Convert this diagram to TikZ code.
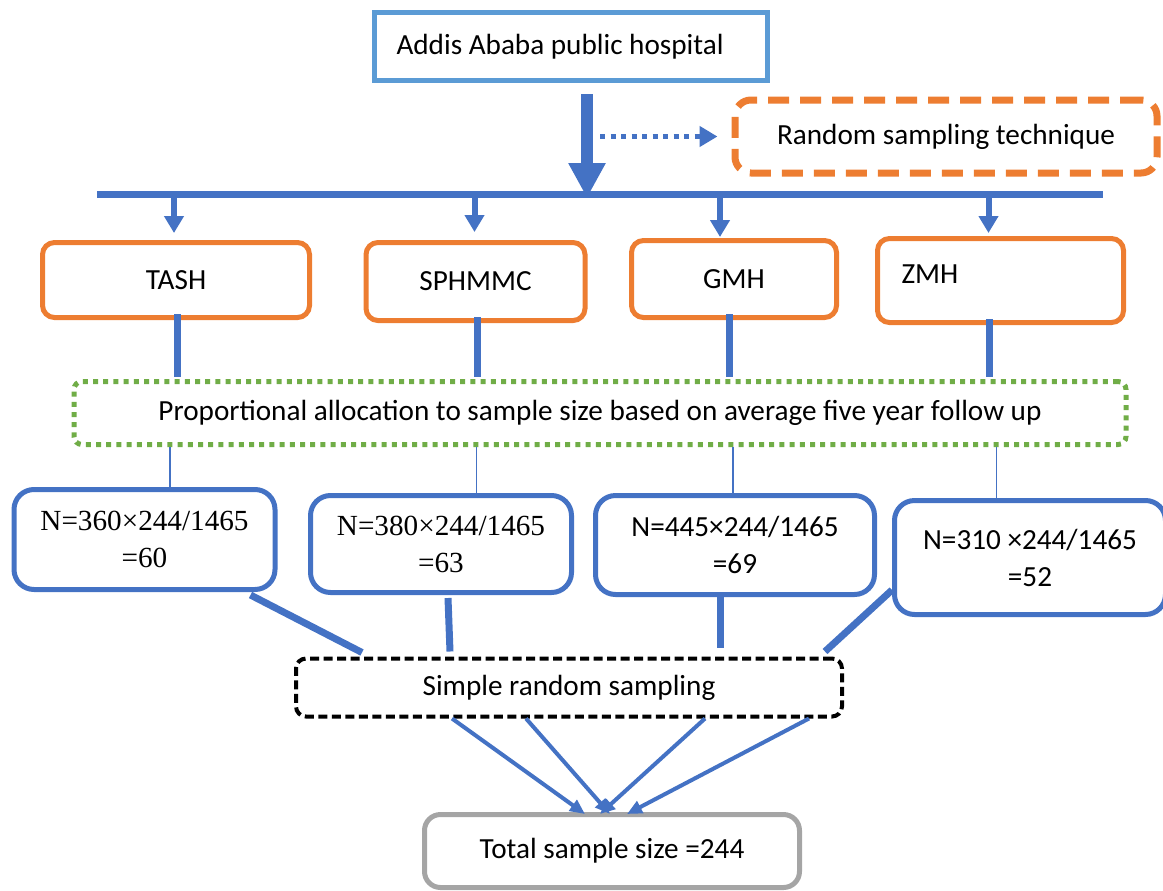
\documentclass[tikz,border=0pt]{standalone}
\usepackage{fontspec}
\setmainfont{Carlito}
\newfontfamily\timesfont{Liberation Serif}
\usetikzlibrary{arrows.meta,calc}
\definecolor{hospblue}{HTML}{5B9BD5}
\definecolor{linkblue}{HTML}{4472C4}
\definecolor{siteorange}{HTML}{ED7D31}
\definecolor{allocgreen}{HTML}{70AD47}
\definecolor{totalgray}{HTML}{A5A5A5}
\newcommand\chartfont{\fontsize{14.6}{18.5}\selectfont}
\tikzset{%
  site/.style={draw=siteorange,line width=2.5pt,rounded corners=6pt,align=center},
  share/.style={draw=linkblue,line width=2.5pt,rounded corners=10pt,align=center},
  link/.style={linkblue,line width=3.5pt},
  thinlink/.style={linkblue,line width=0.7pt},
  arrow/.style={-{Triangle[length=8.5pt,width=9.5pt]},linkblue,line width=3pt}%
}

\begin{document}
\begin{tikzpicture}[
    x=0.5pt, y=-0.5pt,
    font=\chartfont,
    topbox/.style={
        draw=hospblue,
        line width=2.5pt,
        align=flush left,
        text width=174.5pt,
        inner xsep=11pt,
        minimum height=34pt
    },
    technique/.style={
        draw=siteorange,
        line width=3.5pt,
        dash pattern=on 10.5pt off 5.5pt,
        rounded corners=8pt,
        minimum width=211pt,
        minimum height=36.5pt
    },
    allocbox/.style={
        draw=allocgreen,
        line width=2.5pt,
        dash pattern=on 2.5pt off 2.6pt,
        rounded corners=4pt,
        minimum width=526pt,
        minimum height=31.5pt
    },
    srsbox/.style={
        draw=black,
        line width=2pt,
        dash pattern=on 4.5pt off 2.25pt,
        rounded corners=5pt,
        minimum width=273pt,
        minimum height=29pt
    },
    totalbox/.style={
        draw=totalgray,
        line width=2.5pt,
        rounded corners=8pt,
        minimum width=187.5pt,
        minimum height=36.5pt
    },
    bigarrow/.style={-{Triangle[length=17.5pt,width=17.5pt]},linkblue,line width=6pt},
    hintarrow/.style={-{Triangle[length=9pt,width=10pt]},linkblue,line width=2.5pt,dash pattern=on 2.5pt off 2.75pt},
    gather/.style={-{Triangle[length=7.5pt,width=6.5pt]},linkblue,line width=2pt}
]
\useasboundingbox (0,0) rectangle (1163,890);

% Nodes
\node[topbox] (hosp) at (571,46.5) {Addis Ababa public hospital};
\node[technique] (rst) at (946,136.5) {Random sampling technique};

\node[site, minimum width=133.5pt, minimum height=37.5pt] (tash) at (176,280) {TASH};
\node[site, minimum width=109.5pt, minimum height=39pt] (sph) at (475.5,281.5) {SPHMMC};
\node[site, minimum width=102.5pt, minimum height=38.5pt] (gmh) at (734,279) {GMH};
\node[site, minimum width=123pt, minimum height=42pt, text width=99pt, inner xsep=12pt,
      align=flush left, text depth=6pt] (zmh) at (1000.5,280.5) {ZMH};

\node[allocbox] (prop) at (600,413) {Proportional allocation to sample size based on average five year follow up};

\node[share, font=\timesfont\chartfont, minimum width=130.5pt, minimum height=50pt] (n1) at (144.5,539.5) {N=360×244/1465\\=60};
\node[share, font=\timesfont\chartfont, minimum width=130.5pt, minimum height=48.5pt] (n2) at (441,544) {N=380×244/1465\\=63};
\node[share, minimum width=139.5pt, minimum height=49.5pt] (n3) at (735,545) {N=445×244/1465\\=69};
\node[share, minimum width=135.5pt, minimum height=57pt] (n4) at (1030,557.5) {N=310 ×244/1465\\=52};

\node[srsbox] (srs) at (569,687.5) {Simple random sampling};
\node[totalbox] (total) at (612,851) {Total sample size =244};

% Split bar
\coordinate (barL) at (97,194);
\coordinate (barR) at (1103,194);
\coordinate (split) at (587,198);
\coordinate (hint) at (600,136.5);

% Arrows
\draw[link] (barL) -- (barR);
\draw[bigarrow] ($(hosp.south -| split)+(0,11)$) -- (split);
\draw[hintarrow] (hint) -- ($(hint -| rst.west)+(-14,0)$);

\foreach \site/\dx/\dy in {tash/-2/-7, sph/-1/-8, gmh/-14/-1, zmh/-12/-3}
  \draw[arrow] ($(barL -| \site.north)+(\dx,0)$) -- ($(\site.north)+(\dx,\dy)$);

\foreach \site/\dx in {tash/1, sph/2, gmh/-5, zmh/-11}
  \draw[link] ($(\site.south)+(\dx,-6)$) -- ($(prop.north -| \site.south)+(\dx,-2)$);

\foreach \site/\share/\dx in {tash/n1/-6, sph/n2/1, gmh/n3/-1, zmh/n4/-4}
  \draw[thinlink] ($(prop.south -| \site.south)+(\dx,0)$) -- ($(\share.north -| \site.south)+(\dx,0)$);

\draw[link] ($(n1.south)+(106,3)$) -- ($(srs.north)+(-207,-4)$);
\draw[link] ($(n2.south)+(7,3)$) -- ($(srs.north)+(-119,-5)$);
\draw[link] ($(n3.south)+(-14.5,0)$) -- ($(srs.north)+(151.5,-9)$);
\draw[link] ($(n4.west)+(0,32.5)$) -- ($(srs.north)+(256,-5)$);

\foreach \dx/\ex in {-117/-27, -43/-2, 136/-12, 240/15}
  \draw[gather] ($(srs.south)+(\dx,0)$) -- ($(total.north)+(\ex,2)$);

\end{tikzpicture}
\end{document}
